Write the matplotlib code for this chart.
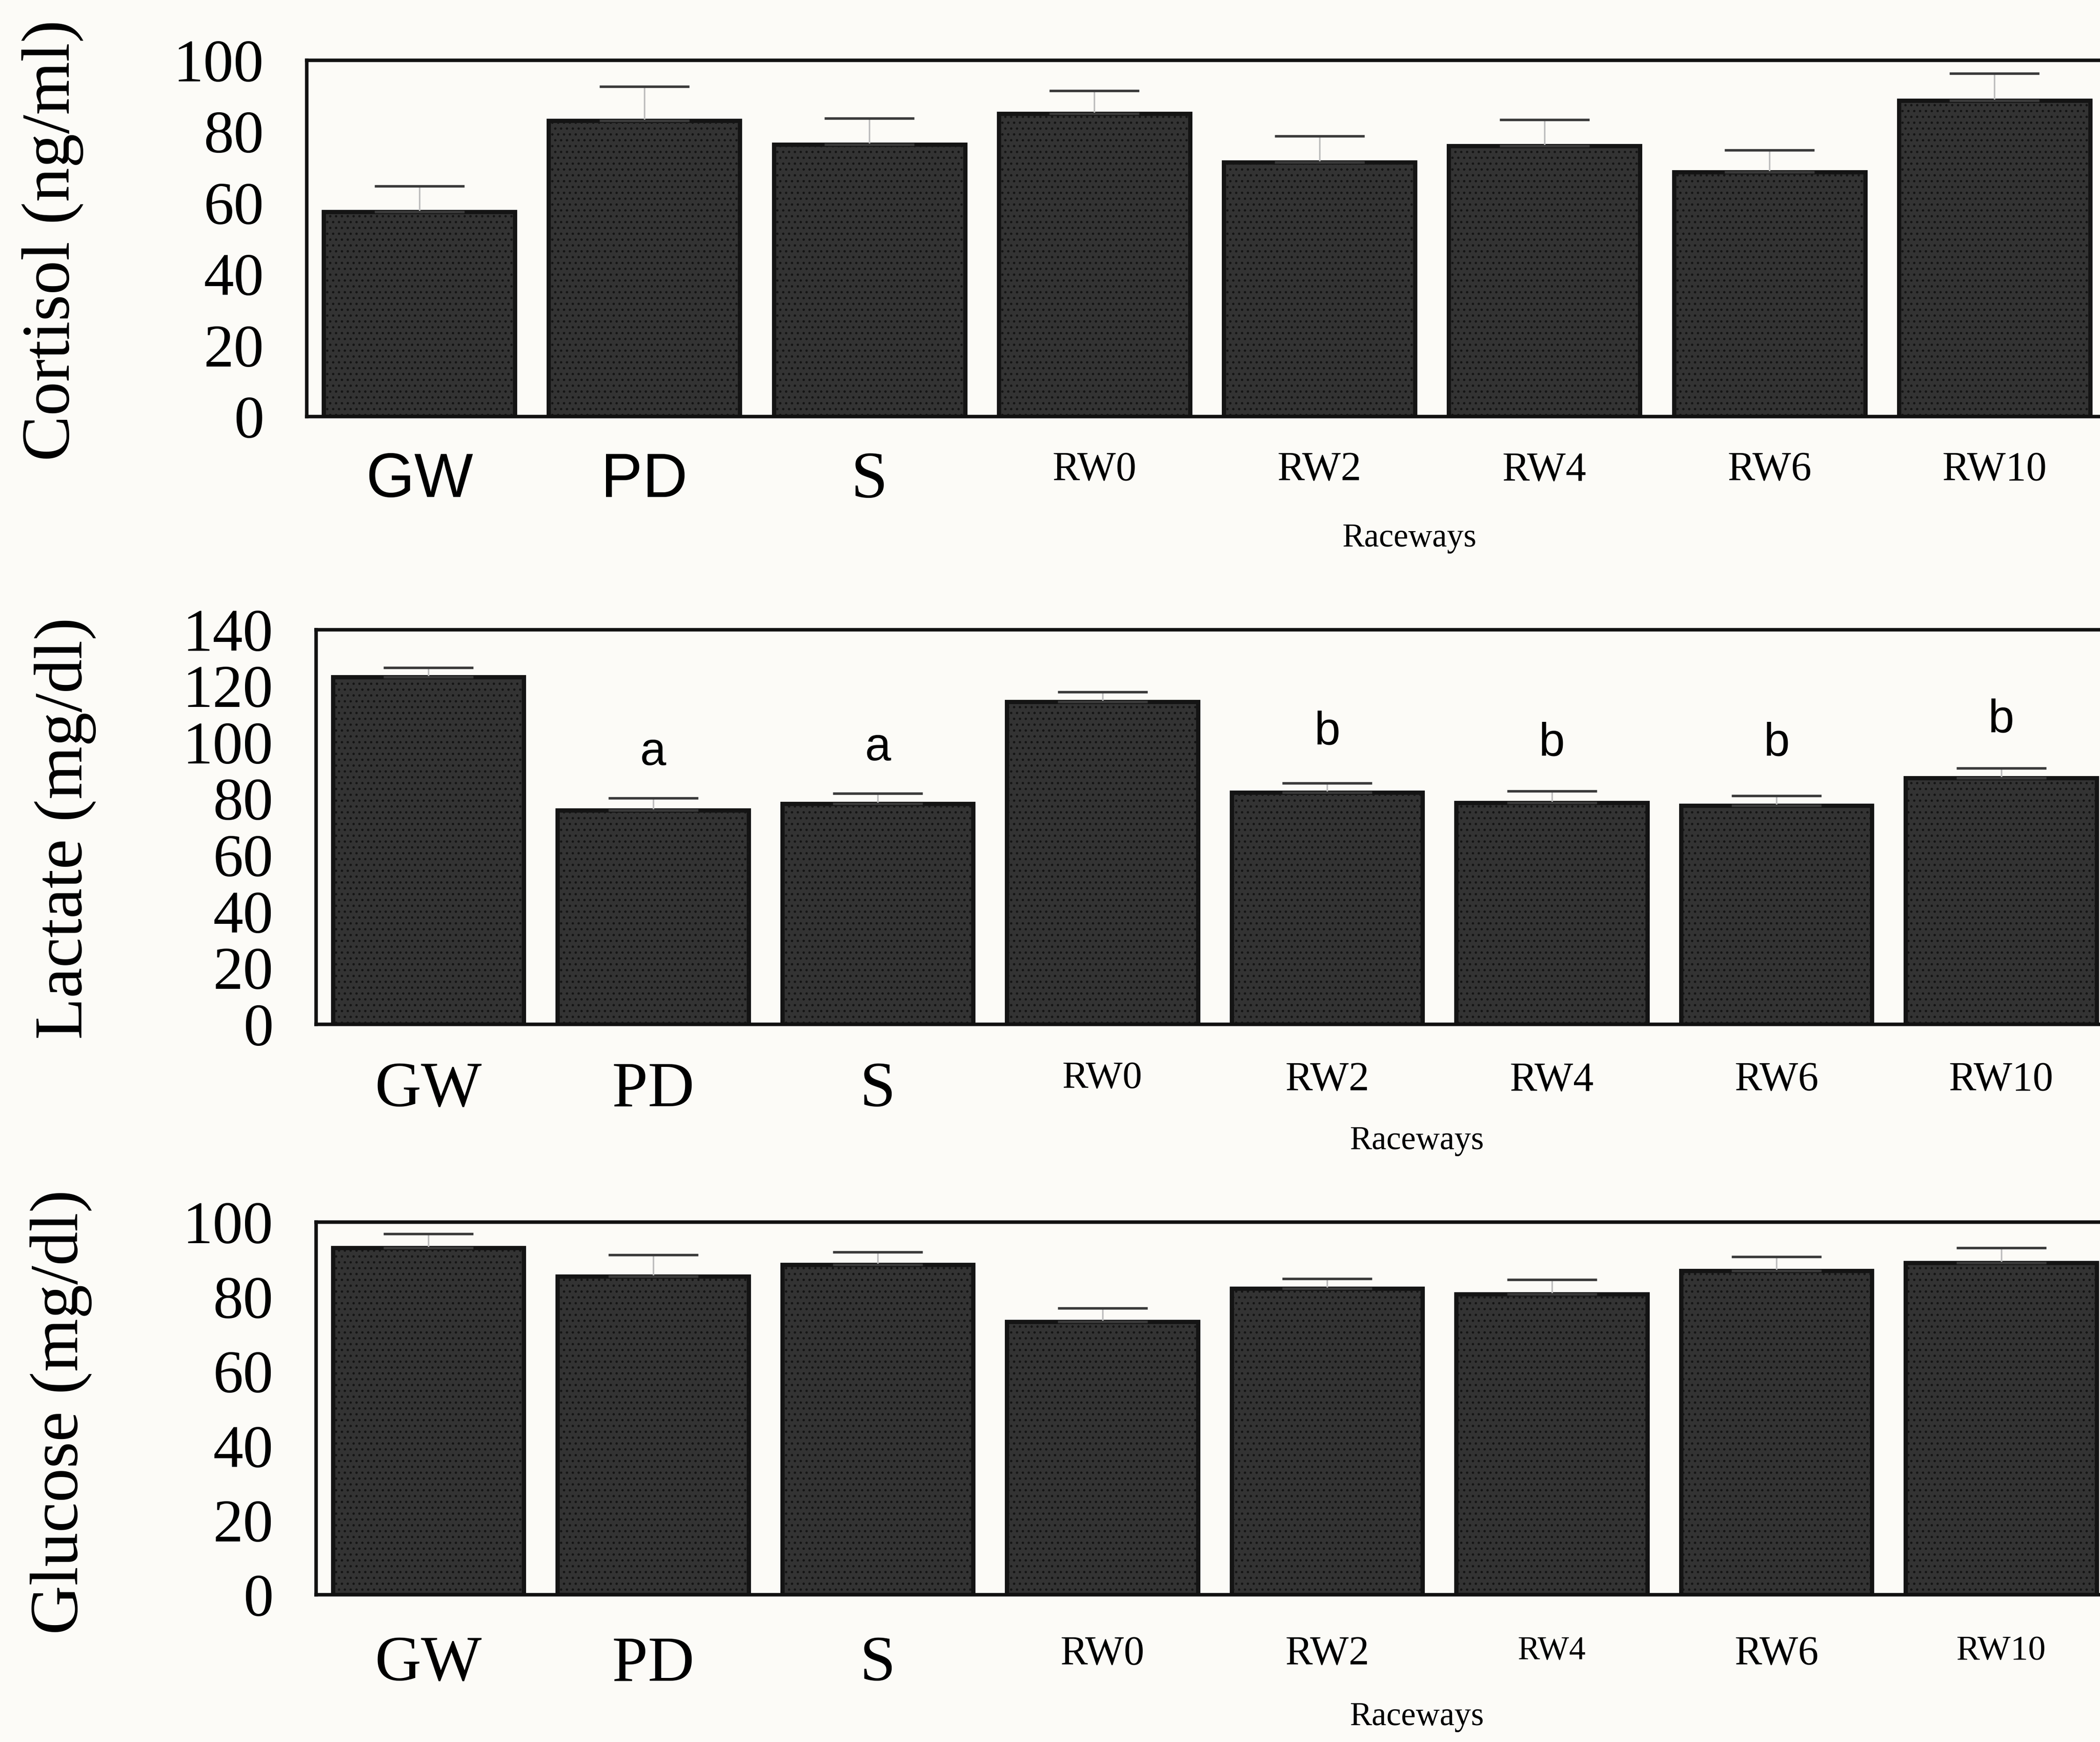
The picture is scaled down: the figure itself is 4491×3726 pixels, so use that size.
import numpy as np
import matplotlib
matplotlib.use('Agg')
from matplotlib import pyplot as plt

# data
raceways = ['GW', 'PD', 'S', 'RW0', 'RW2', 'RW4', 'RW6', 'RW10']

cortisol_mean = [57.4, 83.0, 76.3, 85.0, 71.3, 75.9, 68.6, 88.7]
cortisol_err = [7.3, 9.6, 7.4, 6.4, 7.4, 7.4, 6.2, 7.6]

lactate_mean = [123.1, 75.9, 78.2, 114.4, 82.3, 78.5, 77.6, 87.3]
lactate_err = [3.4, 4.4, 3.7, 3.5, 3.2, 4.3, 3.4, 3.5]
lactate_letters = ['', 'a', 'a', '', 'b', 'b', 'b', 'b']
letter_y = [0, 96.4, 98.0, 0, 103.5, 99.6, 99.6, 107.8]

glucose_mean = [93.2, 85.5, 88.6, 73.3, 82.2, 80.8, 87.0, 89.2]
glucose_err = [3.7, 5.8, 3.4, 3.7, 2.7, 3.8, 3.8, 3.9]

SERIF = 'Liberation Serif'
SANS = 'Liberation Sans'
bg = '#fcfbf7'

plt.rcParams['hatch.color'] = '#5c5c5c'
plt.rcParams['hatch.linewidth'] = 0.6

fig = plt.figure(figsize=(4491 / 300, 3726 / 300), dpi=300, facecolor=bg)

panels = [
    dict(rect=[0.14607, 0.76087, 0.85727, 0.20464], mean=cortisol_mean, err=cortisol_err,
         ymax=100, step=20, ylabel='Cortisol (ng/ml)', ylab_pos=(0.025, 0.862),
         xfam=[SANS, SANS, SERIF, SERIF, SERIF, SERIF, SERIF, SERIF],
         xsize=[32, 32, 34, 21, 21, 21, 21, 21], pad=18, race_y=-0.341),
    dict(rect=[0.1505, 0.41197, 0.8559, 0.22665], mean=lactate_mean, err=lactate_err,
         ymax=140, step=20, ylabel='Lactate (mg/dl)', ylab_pos=(0.031, 0.5244),
         xfam=[SERIF] * 8,
         xsize=[33, 33, 33, 20, 21, 21, 21, 21], pad=19, race_y=-0.295),
    dict(rect=[0.1505, 0.08441, 0.8559, 0.2139], mean=glucose_mean, err=glucose_err,
         ymax=100, step=20, ylabel='Glucose (mg/dl)', ylab_pos=(0.029, 0.1895),
         xfam=[SERIF] * 8,
         xsize=[33, 33, 33, 21, 21, 17, 21, 18], pad=21, race_y=-0.327),
]

x = np.arange(len(raceways))

for i, p in enumerate(panels):
    ax = fig.add_axes(p['rect'])
    ax.set_facecolor(bg)
    ax.bar(x, p['mean'], width=0.85, color='#333333', edgecolor='#141414',
           linewidth=2.2, hatch='....', zorder=2)
    _, caps, stems = ax.errorbar(x, p['mean'], yerr=[np.zeros(len(x)), p['err']],
                                 fmt='none', ecolor='#3a3a3a', capsize=23,
                                 capthick=1.3, elinewidth=0.8, zorder=3)
    stems[0].set_color('#bdbdbd')

    ax.set_xlim(-0.5, 7.5)
    ax.set_ylim(0, p['ymax'])
    ax.set_yticks(np.arange(0, p['ymax'] + 1, p['step']))
    ax.tick_params(axis='y', length=0, pad=22, labelsize=31)
    for t in ax.get_yticklabels():
        t.set_fontfamily(SERIF)
    ax.set_xticks(x)
    ax.set_xticklabels(raceways)
    ax.tick_params(axis='x', length=0, pad=p['pad'])
    for t, fam, sz in zip(ax.get_xticklabels(), p['xfam'], p['xsize']):
        t.set_fontfamily(fam)
        t.set_fontsize(sz)

    for s in ['left', 'top', 'bottom']:
        ax.spines[s].set_linewidth(1.8)
        ax.spines[s].set_color('#111111')
    ax.spines['right'].set_visible(False)

    ax.text(4.4, p['race_y'], 'Raceways', transform=ax.get_xaxis_transform(),
            ha='center', va='center', fontsize=17, family=SERIF)
    fig.text(p['ylab_pos'][0], p['ylab_pos'][1], p['ylabel'], rotation=90,
             ha='center', va='center', fontsize=35, family=SERIF)

    if i == 1:
        for xi, lab, ly in zip(x, lactate_letters, letter_y):
            if lab:
                ax.text(xi, ly, lab, ha='center', va='center', fontsize=24,
                        family=SANS, zorder=4)

fig.savefig('out.png', dpi=300, facecolor=bg)
